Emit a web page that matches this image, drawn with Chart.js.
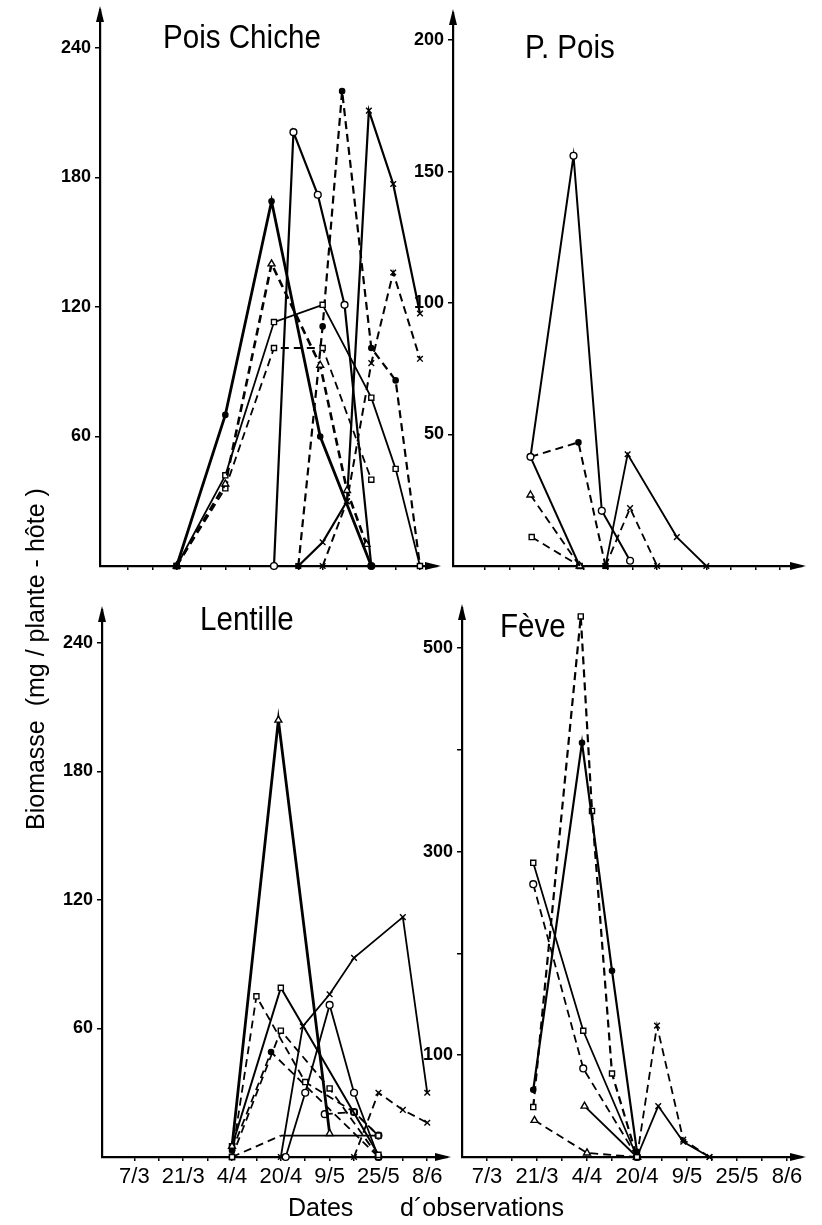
<!DOCTYPE html>
<html><head><meta charset="utf-8">
<script src="https://cdn.jsdelivr.net/npm/chart.js@4.4.1/dist/chart.umd.min.js"></script>
<style>
html,body{margin:0;padding:0;background:#fff;}
body{width:822px;height:1225px;position:relative;overflow:hidden;font-family:"Liberation Sans",Arial,sans-serif;color:#000;}
canvas{position:absolute;}
.t{position:absolute;white-space:nowrap;line-height:1;transform-origin:0 0;}
.title{font-size:34px;transform:scaleX(0.87);}
</style></head><body>
<canvas id="cA" style="left:0;top:0" width="445" height="600"></canvas>
<canvas id="cB" style="left:400px;top:0" width="422" height="600"></canvas>
<canvas id="cC" style="left:0;top:590px" width="460" height="635"></canvas>
<canvas id="cD" style="left:410px;top:590px" width="412" height="635"></canvas>
<div class="t title" style="left:163px;top:19px">Pois Chiche</div>
<div class="t title" style="left:525px;top:29px">P. Pois</div>
<div class="t title" style="left:200px;top:601px">Lentille</div>
<div class="t title" style="left:500px;top:608px">Fève</div>
<div class="t" style="left:288px;top:1195px;font-size:25px">Dates</div>
<div class="t" style="left:400px;top:1195px;font-size:25px">d´observations</div>
<div class="t" style="left:23px;top:830px;font-size:25px;transform:rotate(-90deg);">Biomasse&nbsp; (mg / plante - hôte )</div>
<script>
// ---- axis categories (observation dates, one tick per observation) ----
const tickIndex = [1,2,3,4,5,6,7,8,9,10,11,12,13];
const tickLabels = ['7/3','','21/3','','4/4','','20/4','','9/5','','25/5','','8/6'];
const pcYTicks = [60,120,180,240];
const ppYTicks = [50,100,150,200];
const leYTicks = [60,120,180,240];
const feYTicks = [100,200,300,400,500];
const feYLabels = ['100','','300','','500'];

// ---- Pois Chiche : [date index, biomass] ----
const pcSolidDot    = [[3,0],[5,70],[6.9,169],[8.9,60],[11,0]];
const pcDashTri     = [[3,0],[5,38],[6.9,140],[8.9,93],[10,35],[10.8,10]];
const pcSolidSquare = [[3,0],[5,42],[7,113],[9,121],[11,78],[12,45],[13,0]];
const pcDashSquare  = [[3,0],[5,36],[7,101],[9,101],[11,40]];
const pcSolidCircle = [[7,0],[7.8,201],[8.8,172],[9.9,121],[11,0]];
const pcDashDot     = [[8,0],[9,111],[9.8,220],[11,101],[12,86],[13,0]];
const pcSolidCross  = [[8,0],[9,11],[10,30],[10.9,211],[11.9,177],[13,117]];
const pcDashCross   = [[9,0],[10,30],[11,94],[11.9,136],[13,96]];

// ---- P. Pois ----
const ppSolidCircle = [[2.85,41.5],[4.6,156],[5.75,21],[6.9,2]];
const ppDashDot     = [[2.85,41.5],[4.8,47],[5.9,0]];
const ppSolidDot    = [[2.85,41.5],[4.85,0]];
const ppDashTri     = [[2.85,27],[4.85,0]];
const ppDashSquare  = [[2.9,11],[4.85,0]];
const ppSolidCross  = [[5.9,0],[6.8,42.5],[8.8,11],[10,0]];
const ppDashCross   = [[5.9,0],[6.9,22],[8,0]];

// ---- Lentille ----
const leSolidTri    = [[5,5],[6.9,204],[9,11]];
const leSolidSquare = [[5,5],[7,79],[11,1]];
const leDashR1      = [[5,0],[6,75],[8,35],[10,21],[11,10]];
const leDashR2      = [[5,0],[7,59],[9,32],[11,0]];
const leDashTri     = [[5,3],[6.6,49],[11,0]];
const leSolidCross  = [[7,0],[7.9,61],[9,76],[10,93],[12,112],[13,30]];
const leSolidCircle = [[7.2,0],[8,30],[9,71],[10,30],[11,0]];
const leDashCircle  = [[8.8,20],[10,21],[11,10]];
const leDashFlat    = [[5,0],[7,10]];
const leSolidFlat   = [[7,10],[11,10]];
const leDashCross   = [[10,0],[11,30],[12,22],[13,16]];

// ---- Fève ----
const feSolidDot    = [[2.85,66],[4.8,407],[6,183],[7,5]];
const feDashR       = [[2.85,49],[4.75,531],[5.2,340],[6,82],[7,0]];
const feSolidSquare = [[2.85,289],[4.85,124],[7,0]];
const feDashCircle  = [[2.85,268],[4.85,87],[7,0]];
const feSolidTri    = [[4.9,50],[7,0]];
const feDashTri     = [[2.9,36],[5,4],[7,0]];
const feSolidCross  = [[7,0],[7.85,50],[8.85,15],[9.9,0]];
const feDashCross   = [[7,0],[7.8,129],[8.85,17],[9.9,0]];

// ---- styling helpers ----
const MARK = {
  dot:    {pointStyle:'circle', pointRadius:2.6, pointBackgroundColor:'#000'},
  circle: {pointStyle:'circle', pointRadius:3.4, pointBackgroundColor:'#fff'},
  square: {pointStyle:'rect',   pointRadius:3.6, pointBackgroundColor:'#fff'},
  tri:    {pointStyle:'triangle', pointRadius:4, pointBackgroundColor:'#fff'},
  cross:  {pointStyle:'crossRot', pointRadius:4, pointBackgroundColor:'#000'},
  none:   {pointRadius:0}
};
function ds(data, dashed, mark, width){
  return Object.assign({
    data: data.map(p => ({x:p[0], y:p[1]})),
    borderColor:'#000', borderWidth: width || 1.8,
    borderDash: dashed ? [8,5] : [],
    pointBorderColor:'#000', pointBorderWidth:1.4,
    tension:0, clip:false, fill:false
  }, MARK[mark]);
}

const arrows = {
  id:'arrows',
  afterDraw(chart){
    const {ctx, chartArea:a} = chart;
    ctx.save(); ctx.fillStyle = '#000';
    ctx.beginPath(); ctx.moveTo(a.left, a.top-4); ctx.lineTo(a.left-4, a.top+12); ctx.lineTo(a.left+4, a.top+12); ctx.closePath(); ctx.fill();
    ctx.beginPath(); ctx.moveTo(a.right+4, a.bottom); ctx.lineTo(a.right-12, a.bottom-4); ctx.lineTo(a.right-12, a.bottom+4); ctx.closePath(); ctx.fill();
    ctx.restore();
  }
};

function make(id, cfg){
  const fam = '"Liberation Sans", Arial, sans-serif';
  new Chart(document.getElementById(id), {
    type:'line',
    data:{datasets: cfg.datasets},
    plugins:[arrows],
    options:{
      responsive:false, animation:false, events:[],
      layout:{padding:{top:cfg.padTop, right:cfg.padRight, left:0, bottom:0}},
      plugins:{legend:{display:false}, tooltip:{enabled:false}, title:{display:false}},
      scales:{
        x:{type:'linear', min:cfg.xmin, max:cfg.xmax,
          afterBuildTicks: s => { s.ticks = tickIndex.map(v => ({value:v})); },
          ticks:{autoSkip:false, maxRotation:0, color:'#000', padding:3,
            font:{family:fam, size:22},
            callback: v => cfg.xLabels ? tickLabels[Math.round(v)-1] : ''},
          grid:{drawOnChartArea:false, drawTicks:true, tickLength:4, color:'#000', lineWidth:1.5},
          border:{display:true, color:'#000', width:2.2},
          afterFit: s => { s.height = cfg.xH; s.paddingLeft = 0; s.paddingRight = 0; }
        },
        y:{type:'linear', min:0, max:cfg.ymax,
          afterBuildTicks: s => { s.ticks = cfg.yTicks.map(v => ({value:v})); },
          ticks:{color:'#000', padding:4, font:{family:fam, size:18, weight:'bold'},
            callback: (v, i) => cfg.yLabels ? cfg.yLabels[i] : String(v)},
          grid:{drawOnChartArea:false, drawTicks:true, tickLength:5, color:'#000', lineWidth:1.5},
          border:{display:true, color:'#000', width:2.2},
          afterFit: s => { s.width = cfg.yW; s.paddingTop = 0; s.paddingBottom = 0; }
        }
      }
    }
  });
}

make('cA', {padTop:10, padRight:8, yW:100, xH:34, xmin:-0.151, xmax:13.7, ymax:257.6,
  yTicks:pcYTicks, xLabels:false, datasets:[
    ds(pcSolidDot,false,'dot',2.8), ds(pcDashTri,true,'tri',2.6),
    ds(pcSolidSquare,false,'square'), ds(pcDashSquare,true,'square'),
    ds(pcSolidCircle,false,'circle',2.2), ds(pcDashDot,true,'dot',2.2),
    ds(pcSolidCross,false,'cross',2.2), ds(pcDashCross,true,'cross',2)]});

make('cB', {padTop:13, padRight:20, yW:53, xH:34, xmin:-0.3, xmax:13.89, ymax:210.3,
  yTicks:ppYTicks, xLabels:false, datasets:[
    ds(ppSolidCircle,false,'circle',2), ds(ppDashDot,true,'dot',2),
    ds(ppSolidDot,false,'none',2), ds(ppDashTri,true,'tri'),
    ds(ppDashSquare,true,'square'), ds(ppSolidCross,false,'cross'),
    ds(ppDashCross,true,'cross')]});

make('cC', {padTop:20, padRight:13, yW:102, xH:68, xmin:-0.328, xmax:13.81, ymax:255.4,
  yTicks:leYTicks, xLabels:true, datasets:[
    ds(leSolidTri,false,'tri',2.8), ds(leSolidSquare,false,'square',2),
    ds(leDashR1,true,'square'), ds(leDashR2,true,'square'),
    ds(leDashTri,true,'dot'), ds(leSolidCross,false,'cross'),
    ds(leSolidCircle,false,'circle'), ds(leDashCircle,true,'circle'),
    ds(leDashFlat,true,'none'), ds(leSolidFlat,false,'none'),
    ds(leDashCross,true,'cross')]});

make('cD', {padTop:18, padRight:20, yW:52, xH:68, xmin:0, xmax:13.6, ymax:539.3,
  yTicks:feYTicks, yLabels:feYLabels, xLabels:true, datasets:[
    ds(feSolidDot,false,'dot',2.2), ds(feDashR,true,'square',2.2),
    ds(feSolidSquare,false,'square'), ds(feDashCircle,true,'circle'),
    ds(feSolidTri,false,'tri'), ds(feDashTri,true,'tri'),
    ds(feSolidCross,false,'cross'), ds(feDashCross,true,'cross')]});
</script>
</body></html>
